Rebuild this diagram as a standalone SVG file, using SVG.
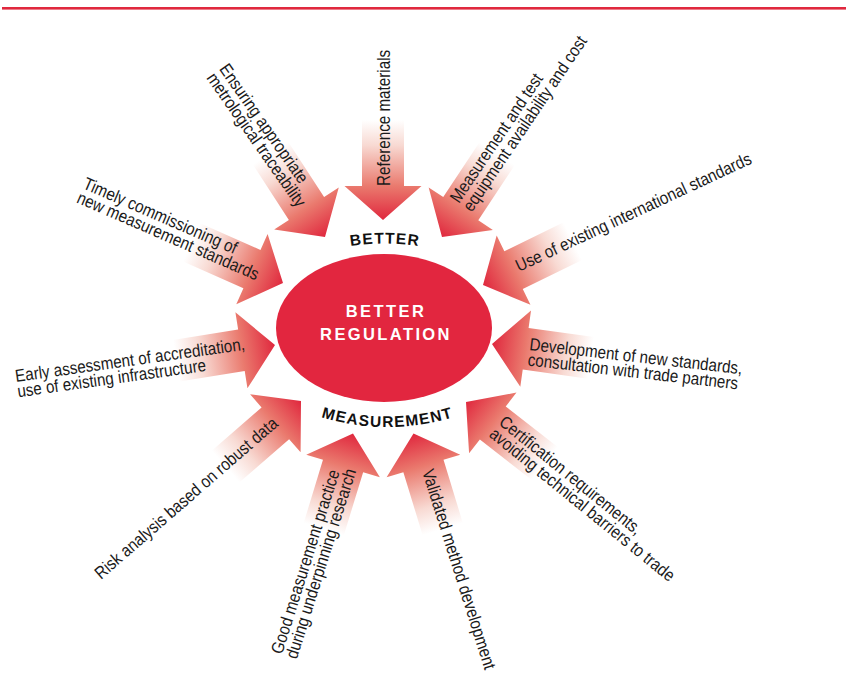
<svg xmlns="http://www.w3.org/2000/svg" xmlns:xlink="http://www.w3.org/1999/xlink" width="846" height="688" viewBox="0 0 846 688">
<style>
.lbl{font-family:"Liberation Sans",Arial,sans-serif;font-size:17.5px;fill:#1a1a1a;}
.arc{font-family:"Liberation Sans",Arial,sans-serif;font-size:15.5px;font-weight:bold;letter-spacing:1.2px;fill:#111;}
.core{font-family:"Liberation Sans",Arial,sans-serif;font-size:16.5px;font-weight:bold;letter-spacing:2.4px;fill:#fff;}
</style>
<defs>
<linearGradient id="g" gradientUnits="userSpaceOnUse" x1="-100" y1="0" x2="0" y2="0">
<stop offset="0" stop-color="#ffffff"/>
<stop offset="0.25" stop-color="#f8dad3"/>
<stop offset="0.66" stop-color="#ea7a6e"/>
<stop offset="1" stop-color="#e0283e"/>
</linearGradient>
<path id="arw" d="M0,0 L-34,-38.5 L-34,-21 L-100,-21 L-100,21 L-34,21 L-34,38.5 Z" fill="url(#g)"/>
<path id="topArc" d="M165,463.5 A220,220 0 0 1 605,463.5"/>
<path id="botArc" d="M160.5,200 A227,227 0 0 0 614.5,200"/>
</defs>
<rect x="2" y="7" width="844" height="2.6" fill="#e0283e"/>
<g id="connectors">
<use xlink:href="#arw" transform="translate(383,220) rotate(90)"/>
<use xlink:href="#arw" transform="translate(325,237) rotate(57)"/>
<use xlink:href="#arw" transform="translate(442,237) rotate(123.5)"/>
<use xlink:href="#arw" transform="translate(483,285) rotate(154)"/>
<use xlink:href="#arw" transform="translate(492,344) rotate(188)"/>
<use xlink:href="#arw" transform="translate(466,402) rotate(218)"/>
<use xlink:href="#arw" transform="translate(413.5,433.5) rotate(253)"/>
<use xlink:href="#arw" transform="translate(353,433.5) rotate(287)"/>
<use xlink:href="#arw" transform="translate(301,401) rotate(319)"/>
<use xlink:href="#arw" transform="translate(275,345) rotate(351)"/>
<use xlink:href="#arw" transform="translate(283,283) rotate(24)"/>
</g>
<g id="center">
<ellipse cx="384" cy="328" rx="108" ry="74" fill="#e2263f"/>
<text class="core" x="386" y="317" text-anchor="middle">BETTER</text>
<text class="core" x="386" y="340" text-anchor="middle">REGULATION</text>
<text class="arc" text-anchor="middle"><textPath xlink:href="#topArc" startOffset="50%">BETTER</textPath></text>
<text class="arc" text-anchor="middle"><textPath xlink:href="#botArc" startOffset="50%">MEASUREMENT</textPath></text>
</g>
<g id="n-reference"><text class="lbl" transform="translate(390,186) rotate(-90) scale(0.87,1)">Reference materials</text></g>
<g id="n-traceability"><text class="lbl" transform="translate(218.7,69.1) rotate(55) scale(0.87,1)"><tspan x="0" y="0">Ensuring appropriate</tspan><tspan x="0" y="15.5">metrological traceability</tspan></text></g>
<g id="n-equipment"><text class="lbl" transform="translate(459,204) rotate(-56) scale(0.87,1)"><tspan x="0" y="0">Measurement and test</tspan><tspan x="0" y="15.5">equipment availability and cost</tspan></text></g>
<g id="n-international"><text class="lbl" transform="translate(519,272) rotate(-25) scale(0.87,1)">Use of existing international standards</text></g>
<g id="n-development"><text class="lbl" transform="translate(529,350) rotate(6.5) scale(0.87,1)"><tspan x="0" y="0">Development of new standards,</tspan><tspan x="0" y="15.5">consultation with trade partners</tspan></text></g>
<g id="n-certification"><text class="lbl" transform="translate(498,424) rotate(39) scale(0.87,1)"><tspan x="0" y="0">Certification requirements,</tspan><tspan x="0" y="15.5">avoiding technical barriers to trade</tspan></text></g>
<g id="n-validated"><text class="lbl" transform="translate(422,471.5) rotate(72.5) scale(0.87,1)">Validated method development</text></g>
<g id="n-good-practice"><text class="lbl" transform="translate(282,655) rotate(-72.5) scale(0.87,1)"><tspan x="0" y="0">Good measurement practice</tspan><tspan x="0" y="15.5">during underpinning research</tspan></text></g>
<g id="n-risk"><text class="lbl" transform="translate(101,580) rotate(-41) scale(0.87,1)">Risk analysis based on robust data</text></g>
<g id="n-accreditation"><text class="lbl" transform="translate(16,382) rotate(-8) scale(0.87,1)"><tspan x="0" y="0">Early assessment of accreditation,</tspan><tspan x="0" y="15.5">use of existing infrastructure</tspan></text></g>
<g id="n-commissioning"><text class="lbl" transform="translate(82,188) rotate(23.5) scale(0.87,1)"><tspan x="0" y="0">Timely commissioning of</tspan><tspan x="0" y="15.5">new measurement standards</tspan></text></g>
</svg>
